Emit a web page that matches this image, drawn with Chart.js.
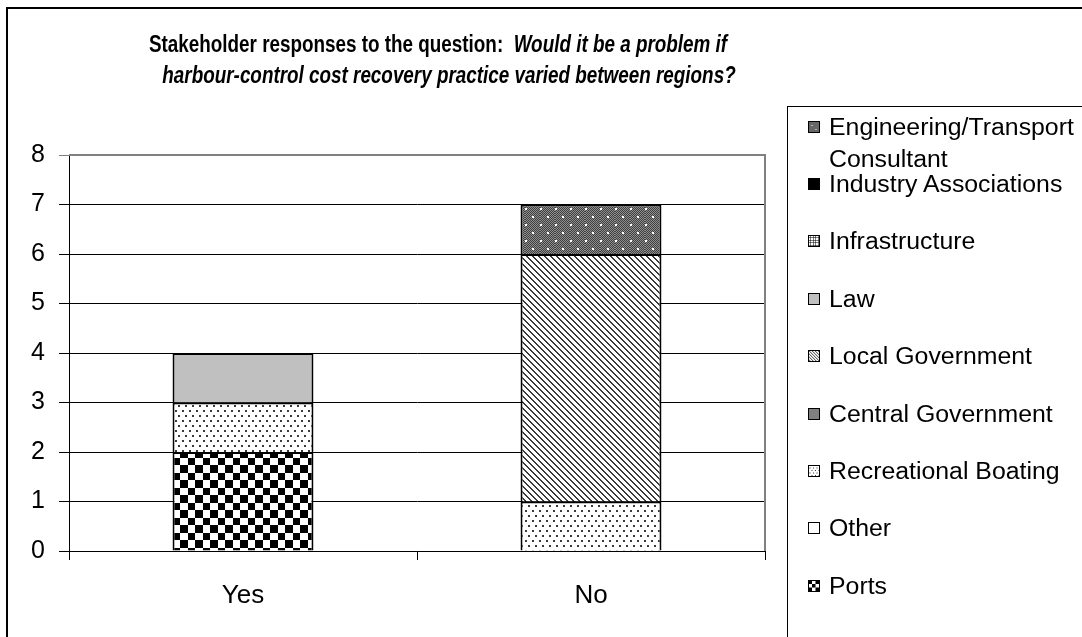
<!DOCTYPE html>
<html>
<head>
<meta charset="utf-8">
<script src="https://cdn.jsdelivr.net/npm/chart.js@4.4.1/dist/chart.umd.min.js"></script>
<style>
  html, body { margin: 0; padding: 0; background: #fff; }
  #wrap { position: relative; width: 1082px; height: 637px; overflow: hidden;
          font-family: "Liberation Sans", Arial, sans-serif; color: #000; }
  #frame { position: absolute; left: 6px; top: 7px; width: 1200px; height: 800px;
           border-left: 2px solid #000; border-top: 2px solid #000; }
  #chart { position: absolute; left: 0; top: 0; }
  .tline { position: absolute; text-align: center; white-space: pre;
           font-weight: bold; font-size: 23px; line-height: 26px; transform: scaleX(0.82); }
  .tline i { font-style: italic; }
  #t1 { left: 0; width: 876px; top: 31px; transform-origin: 438px 50%; }
  #t2 { left: 0; width: 898px; top: 62px; transform-origin: 449px 50%; }
  #legend { position: absolute; left: 787px; top: 106px; width: 400px; height: 700px;
            border-left: 1px solid #000; border-top: 1px solid #000; }
  .lmark { position: absolute; left: 20px; width: 12px; height: 12px; }
  .ltext { position: absolute; left: 41px; width: 222px; font-size: 23px; line-height: 32px;
           transform: scaleX(1.08); transform-origin: 0 50%; white-space: normal; }
</style>
</head>
<body>
<div id="wrap">
  <div id="frame"></div>
  <canvas id="chart" width="1082" height="637"></canvas>
  <div class="tline" id="t1">Stakeholder responses to the question:  <i>Would it be a problem if</i></div>
  <div class="tline" id="t2"><i>harbour-control cost recovery practice varied between regions?</i></div>
  <div id="legend"></div>
</div>
<script>
// Answer categories and responses per stakeholder group (stack order, bottom to top)
const categories = ['Yes', 'No'];
const seriesNames = [
  'Ports', 'Other', 'Recreational Boating', 'Central Government', 'Local Government',
  'Law', 'Infrastructure', 'Industry Associations', 'Engineering/Transport Consultant'
];
const ports                 = [2, 0];
const other                 = [0, 0];
const recreationalBoating   = [1, 1];
const centralGovernment     = [0, 0];
const localGovernment       = [0, 5];
const law                   = [1, 0];
const infrastructure        = [0, 0];
const industryAssociations  = [0, 0];
const engineeringConsultant = [0, 1];
const yTickValues = [0, 1, 2, 3, 4, 5, 6, 7, 8];

const seriesValues = [ports, other, recreationalBoating, centralGovernment, localGovernment,
                      law, infrastructure, industryAssociations, engineeringConsultant];

// ---- fill tiles -------------------------------------------------------
function tile(w, h, paint) {
  const c = document.createElement('canvas');
  c.width = w; c.height = h;
  const g = c.getContext('2d');
  paint(g, w, h);
  return c;
}
function solid(color) { return tile(4, 4, (g, w, h) => { g.fillStyle = color; g.fillRect(0, 0, w, h); }); }

const tiles = {
  checker: tile(15, 15, (g) => {
    g.fillStyle = '#fff'; g.fillRect(0, 0, 15, 15);
    g.fillStyle = '#000'; g.fillRect(0, 0, 8, 8); g.fillRect(8, 8, 7, 7);
  }),
  white: solid('#fff'),
  dots: tile(14, 10, (g) => {
    g.fillStyle = '#fff'; g.fillRect(0, 0, 14, 10);
    g.fillStyle = '#3a3a3a';
    [[0, 0], [7, 0], [3, 5], [10, 5]].forEach(([x, y]) => g.fillRect(x, y, 2, 2));
  }),
  midGrey: solid('#808080'),
  diagonal: tile(6, 6, (g) => {
    for (let y = 0; y < 6; y++) for (let x = 0; x < 6; x++) {
      g.fillStyle = ((x - y + 12) % 6) < 2 ? '#3a3a3a' : '#fff';
      g.fillRect(x, y, 1, 1);
    }
  }),
  lightGrey: solid('#c0c0c0'),
  grid: tile(5, 5, (g) => {
    g.fillStyle = '#fff'; g.fillRect(0, 0, 5, 5);
    g.fillStyle = '#000'; g.fillRect(0, 0, 5, 1); g.fillRect(0, 0, 1, 5);
  }),
  black: solid('#000'),
  speckle: tile(15, 16, (g) => {
    for (let y = 0; y < 16; y++) for (let x = 0; x < 15; x++) {
      g.fillStyle = (x + y) % 2 ? '#404040' : '#8e8e8e';
      g.fillRect(x, y, 1, 1);
    }
    g.fillStyle = '#fff';
    g.fillRect(0, 0, 2, 2); g.fillRect(7, 8, 2, 2);
  })
};
const seriesTiles = ['checker', 'white', 'dots', 'midGrey', 'diagonal', 'lightGrey', 'grid', 'black', 'speckle'];

const canvas = document.getElementById('chart');
const ctx = canvas.getContext('2d');
const fills = seriesTiles.map(k => ctx.createPattern(tiles[k], 'repeat'));

// grey frame on the top and right of the plot area
const plotFrame = {
  id: 'plotFrame',
  beforeDatasetsDraw(chart) {
    const a = chart.chartArea, g = chart.ctx;
    g.save();
    g.strokeStyle = '#808080';
    g.lineWidth = 2;
    g.beginPath();
    g.moveTo(a.left, a.top);
    g.lineTo(a.right, a.top);
    g.lineTo(a.right, a.bottom);
    g.stroke();
    g.restore();
  }
};

const fontFamily = '"Liberation Sans", Arial, sans-serif';

const chart = new Chart(ctx, {
  type: 'bar',
  data: {
    labels: categories,
    datasets: seriesNames.map((name, i) => ({
      label: name,
      data: seriesValues[i],
      backgroundColor: fills[i],
      borderColor: '#000',
      borderWidth: (c) => (c.raw ? 2 : 0),
      borderSkipped: 'start',
      barPercentage: 0.405,
      categoryPercentage: 1
    }))
  },
  options: {
    responsive: false,
    animation: false,
    events: [],
    layout: { padding: { left: 7, right: 317, top: 155, bottom: 0 } },
    plugins: { legend: { display: false }, title: { display: false }, tooltip: { enabled: false } },
    scales: {
      x: {
        stacked: true,
        offset: true,
        grid: { display: true, offset: true, drawOnChartArea: false, drawTicks: true,
                tickLength: 9, color: '#000', lineWidth: 1 },
        border: { display: true, color: '#000', width: 1 },
        ticks: { color: '#000', font: { family: fontFamily, size: 26 }, padding: 20 },
        afterFit(s) { s.height = 86; }
      },
      y: {
        stacked: true,
        min: 0,
        max: 8,
        afterBuildTicks(s) { s.ticks = yTickValues.map(v => ({ value: v })); },
        grid: { color: (c) => (c.tick && c.tick.value === 8 ? '#808080' : '#000'),
                lineWidth: 1, tickLength: 10, drawTicks: true },
        border: { display: true, color: '#000', width: 1 },
        ticks: { color: '#000', font: { family: fontFamily, size: 25 }, padding: 14 },
        afterFit(s) { s.width = 62; }
      }
    }
  },
  plugins: [plotFrame]
});

// legend: listed top to bottom in the reverse of the stacking order
const legend = document.getElementById('legend');
const legendTop = 106;
const firstRowCentre = 125.5, rowStep = 57.4;
chart.data.datasets.slice().reverse().forEach((ds, k) => {
  const idx = seriesNames.indexOf(ds.label);
  const centre = firstRowCentre + rowStep * k - legendTop;
  const mark = document.createElement('canvas');
  mark.className = 'lmark';
  mark.width = 12; mark.height = 12;
  mark.style.top = (centre - 6) + 'px';
  const mg = mark.getContext('2d');
  const pat = mg.createPattern(tiles[seriesTiles[idx]], 'repeat');
  pat.setTransform(new DOMMatrix([0.5, 0, 0, 0.5, 0, 0]));
  mg.fillStyle = pat;
  mg.fillRect(0, 0, 12, 12);
  mg.strokeStyle = '#000';
  mg.lineWidth = 1;
  mg.strokeRect(0.5, 0.5, 11, 11);
  legend.appendChild(mark);
  const text = document.createElement('div');
  text.className = 'ltext';
  text.style.top = (centre - 16) + 'px';
  text.textContent = ds.label;
  legend.appendChild(text);
});
</script>
</body>
</html>
